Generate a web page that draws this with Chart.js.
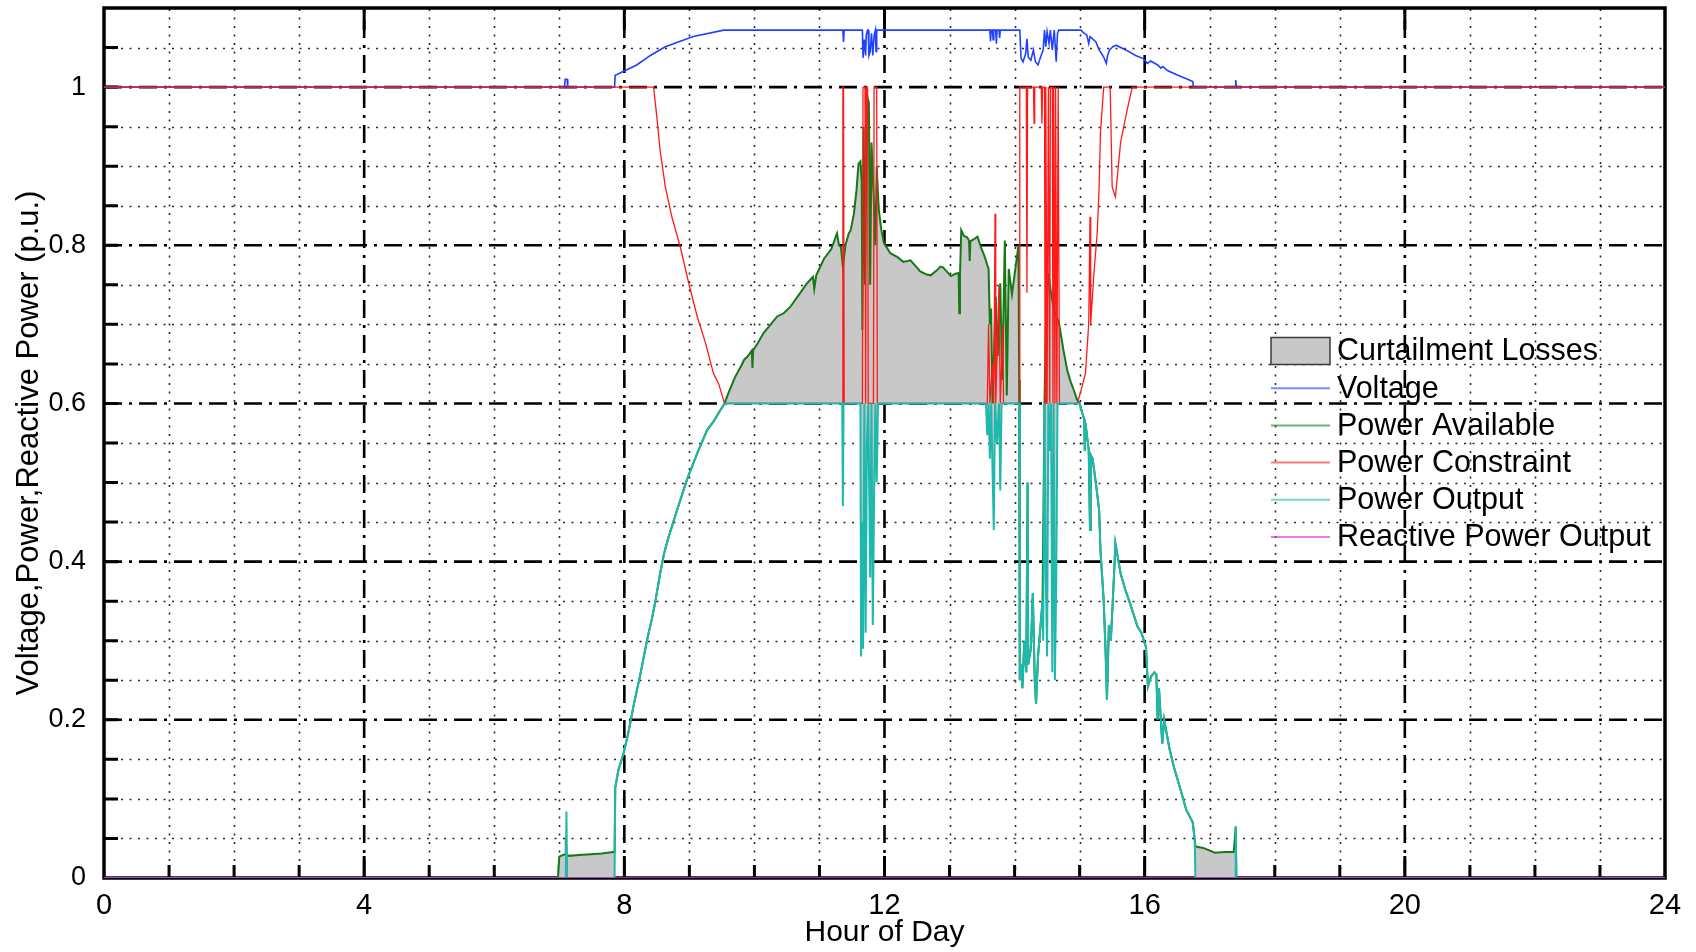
<!DOCTYPE html>
<html>
<head>
<meta charset="utf-8">
<script src="https://cdn.jsdelivr.net/npm/chart.js@4/dist/chart.umd.min.js"></script>
<style>
  html, body { margin: 0; padding: 0; background: #fff; }
  canvas { display: block; }
</style>
</head>
<body>
<canvas id="chart" width="1696" height="952"></canvas>
<script>
// values (hour of day -> p.u.)
const voltHours = [0, 7.08, 7.09, 7.12, 7.13, 7.85, 7.86, 8.19, 8.4, 8.63, 9.06, 9.53, 11.36, 11.37, 11.38,
  11.66, 11.67, 11.69, 11.71, 11.72, 11.74, 11.75, 11.76, 11.78, 11.8, 11.82, 11.84, 11.86, 11.87, 11.88,
  13.62, 13.63, 13.64, 13.66, 13.67, 13.68, 13.71, 13.72, 13.73, 13.76, 13.77, 13.78,
  14.08, 14.10, 14.13, 14.17, 14.19, 14.21, 14.25, 14.29, 14.32, 14.36, 14.40, 14.44, 14.46, 14.48, 14.50,
  14.53, 14.55, 14.58, 14.61, 14.64, 14.66, 14.68, 15.02, 15.07, 15.11, 15.14, 15.16, 15.25, 15.3, 15.37,
  15.41, 15.43, 15.46, 15.51, 15.56, 15.71, 15.86, 15.98, 16.04, 16.09, 16.2, 16.25, 16.28, 16.35, 16.51,
  16.66, 16.74, 16.75, 17.39, 17.4, 17.41, 24];
const voltValues = [1, 1, 1.01, 1.01, 1, 1, 1.015, 1.028, 1.04, 1.051, 1.064, 1.072, 1.072, 1.057, 1.072,
  1.072, 1.037, 1.06, 1.04, 1.066, 1.072, 1.072, 1.04, 1.045, 1.068, 1.04, 1.065, 1.072, 1.045, 1.072,
  1.072, 1.058, 1.072, 1.072, 1.06, 1.072, 1.072, 1.055, 1.072, 1.072, 1.062, 1.072,
  1.072, 1.036, 1.032, 1.042, 1.061, 1.038, 1.034, 1.047, 1.032, 1.028, 1.038, 1.047, 1.072, 1.051, 1.07,
  1.055, 1.072, 1.047, 1.072, 1.032, 1.068, 1.072, 1.072, 1.068, 1.066, 1.055, 1.064, 1.057, 1.047, 1.038,
  1.03, 1.04, 1.047, 1.051, 1.053, 1.047, 1.04, 1.036, 1.03, 1.033, 1.028, 1.024, 1.026, 1.021, 1.015,
  1.01, 1.007, 1, 1, 1.009, 1, 1];

const availHours = [0, 6.98, 7.0, 7.05, 7.09, 7.10, 7.11, 7.15, 7.3, 7.48, 7.65, 7.83, 7.85, 7.86, 7.91,
  7.99, 8.07, 8.14, 8.25, 8.35, 8.43, 8.48, 8.55, 8.61, 8.68, 8.81, 8.96, 9.12, 9.27, 9.37, 9.48, 9.54,
  9.6, 9.7, 9.8, 9.84, 9.9, 9.96, 9.97, 9.98, 10.05, 10.14, 10.25, 10.35, 10.45, 10.55, 10.68, 10.81,
  10.9, 10.92, 10.95, 11.07, 11.18, 11.27, 11.3, 11.33, 11.36, 11.4, 11.45, 11.48, 11.53, 11.57, 11.6,
  11.63, 11.65, 11.66, 11.68, 11.7, 11.73, 11.76, 11.78, 11.8, 11.83, 11.86, 11.88, 11.91, 11.95, 11.99,
  12.09, 12.2, 12.29, 12.4, 12.55, 12.65, 12.71, 12.8, 12.86, 12.9, 13.02, 13.09, 13.14, 13.15, 13.16,
  13.18, 13.22, 13.27, 13.3, 13.31, 13.32, 13.38, 13.43, 13.48, 13.53, 13.6, 13.62, 13.64, 13.66, 13.71,
  13.74, 13.78, 13.81, 13.85, 13.88, 13.91, 13.96, 14.04, 14.06, 14.07, 14.08, 14.10, 14.12, 14.15,
  14.18, 14.20, 14.21, 14.25, 14.28, 14.31, 14.33, 14.36, 14.40, 14.43, 14.46, 14.48, 14.52, 14.56,
  14.6, 14.64, 14.68, 14.75, 14.81, 14.86, 14.91, 14.96, 15.0, 15.04, 15.07, 15.08, 15.09, 15.14, 15.16,
  15.17, 15.2, 15.25, 15.3, 15.32, 15.37, 15.4, 15.42, 15.45, 15.48, 15.53, 15.55, 15.63, 15.7, 15.76,
  15.89, 15.95, 16.02, 16.05, 16.1, 16.15, 16.18, 16.19, 16.2, 16.22, 16.27, 16.3, 16.38, 16.45, 16.54,
  16.64, 16.74, 16.77, 16.78, 16.9, 17.08, 17.23, 17.37, 17.4, 17.41, 24];
const availValues = [0, 0, 0.027, 0.029, 0.03, 0.05, 0.03, 0.028, 0.029, 0.03, 0.031, 0.033, 0.033, 0.114, 0.137,
  0.158, 0.187, 0.217, 0.259, 0.301, 0.33, 0.351, 0.385, 0.41, 0.431, 0.465, 0.503, 0.537, 0.566, 0.577, 0.592, 0.6,
  0.613, 0.633, 0.648, 0.655, 0.66, 0.667, 0.645, 0.667, 0.676, 0.689, 0.7, 0.71, 0.714, 0.722, 0.737, 0.752,
  0.76, 0.745, 0.762, 0.783, 0.795, 0.815, 0.8, 0.798, 0.773, 0.8, 0.815, 0.819, 0.84, 0.87, 0.903,
  0.906, 0.88, 0.693, 0.95, 0.75, 0.99, 0.98, 0.75, 0.93, 0.87, 0.8, 0.9, 0.847, 0.82, 0.803,
  0.79, 0.785, 0.779, 0.781, 0.767, 0.763, 0.762, 0.768, 0.773, 0.772, 0.761, 0.764, 0.765, 0.714, 0.76,
  0.819, 0.812, 0.81, 0.806, 0.78, 0.805, 0.808, 0.811, 0.798, 0.788, 0.77, 0.7, 0.72, 0.6, 0.735,
  0.66, 0.752, 0.63, 0.806, 0.61, 0.77, 0.738, 0.788, 0.8, 0.63, 0.25, 0.27, 0.24, 0.3,
  0.26, 0.5, 0.27, 0.29, 0.36, 0.25, 0.22, 0.28, 0.32, 0.35, 0.6, 0.7, 0.765, 0.74,
  0.72, 0.71, 0.703, 0.668, 0.642, 0.628, 0.617, 0.605, 0.6, 0.588, 0.58, 0.54, 0.575, 0.541, 0.44,
  0.535, 0.53, 0.499, 0.465, 0.415, 0.351, 0.284, 0.225, 0.32, 0.3, 0.385, 0.423, 0.385, 0.365, 0.351,
  0.318, 0.31, 0.292, 0.242, 0.255, 0.26, 0.257, 0.228, 0.2, 0.24, 0.17, 0.2, 0.164, 0.14, 0.115,
  0.086, 0.07, 0.048, 0.04, 0.038, 0.032, 0.033, 0.033, 0.065, 0, 0];

const limitHours = [0, 8.45, 8.5, 8.55, 8.63, 8.73, 8.86, 8.99, 9.12, 9.25, 9.37, 9.45, 9.54, 11.35, 11.36,
  11.37, 11.38, 11.66, 11.67, 11.7, 11.71, 11.72, 11.74, 11.75, 11.83, 11.84, 11.88, 11.89, 13.58, 13.6,
  13.62, 13.66, 13.68, 13.7, 13.71, 13.76, 13.78, 13.82, 13.83, 14.07, 14.08, 14.18, 14.19, 14.2, 14.29,
  14.3, 14.31, 14.41, 14.42, 14.43, 14.46, 14.47, 14.48, 14.5, 14.52, 14.54, 14.55, 14.58, 14.59, 14.6,
  14.62, 14.63, 14.65, 14.67, 14.69, 14.96, 15.0, 15.09, 15.14, 15.16, 15.17, 15.22, 15.27, 15.3, 15.32,
  15.37, 15.47, 15.5, 15.55, 15.63, 15.73, 15.81, 24];
const limitValues = [1, 1, 0.962, 0.92, 0.874, 0.836, 0.798, 0.752, 0.71, 0.676, 0.638, 0.625, 0.6, 0.6, 1,
  1, 0.6, 0.6, 1, 1, 0.6, 1, 1, 0.6, 0.6, 1, 1, 0.6, 0.6, 0.7,
  0.6, 0.65, 0.6, 0.84, 0.6, 0.75, 0.6, 0.7, 0.6, 0.6, 1, 1, 0.74, 1, 1,
  0.954, 1, 1, 0.954, 1, 1, 0.6, 1, 0.6, 1, 0.6, 1, 1, 0.6, 1,
  0.6, 1, 0.6, 1, 0.6, 0.6, 0.61, 0.638, 0.701, 0.836, 0.7, 0.765, 0.815, 0.874, 0.942,
  1, 1, 0.874, 0.861, 0.93, 0.971, 1, 1];

const outHours = [0, 7.10, 7.11, 7.12, 7.85, 7.86, 7.91, 7.99, 8.07, 8.14, 8.25, 8.35, 8.43, 8.48, 8.55,
  8.61, 8.68, 8.81, 8.96, 9.12, 9.27, 9.37, 9.48, 9.55, 11.35, 11.36, 11.37, 11.63, 11.64, 11.66, 11.67,
  11.69, 11.71, 11.73, 11.75, 11.78, 11.8, 11.82, 11.84, 11.86, 11.88, 11.9, 13.56, 13.58, 13.6, 13.62,
  13.64, 13.68, 13.7, 13.73, 13.76, 13.78, 13.8, 14.07, 14.08, 14.10, 14.12, 14.15, 14.18, 14.20, 14.21,
  14.25, 14.28, 14.31, 14.33, 14.36, 14.40, 14.43, 14.44, 14.46, 14.48, 14.5, 14.52, 14.54, 14.56, 14.58,
  14.6, 14.62, 14.64, 14.66, 15.0, 15.04, 15.07, 15.08, 15.09, 15.14, 15.16, 15.17, 15.2, 15.25, 15.3,
  15.32, 15.37, 15.4, 15.42, 15.45, 15.48, 15.53, 15.55, 15.63, 15.7, 15.76, 15.89, 15.95, 16.02, 16.05,
  16.1, 16.15, 16.18, 16.19, 16.2, 16.22, 16.27, 16.3, 16.38, 16.45, 16.54, 16.64, 16.74, 16.77, 16.78,
  17.39, 17.4, 17.41, 24];
const outValues = [0, 0, 0.084, 0, 0, 0.114, 0.137, 0.158, 0.187, 0.217, 0.259, 0.301, 0.33, 0.351, 0.385,
  0.41, 0.431, 0.465, 0.503, 0.537, 0.566, 0.577, 0.592, 0.6, 0.6, 0.47, 0.6, 0.6, 0.28, 0.45, 0.29,
  0.6, 0.31, 0.55, 0.6, 0.38, 0.6, 0.32, 0.48, 0.6, 0.5, 0.6, 0.6, 0.56, 0.6, 0.53,
  0.6, 0.44, 0.6, 0.55, 0.6, 0.49, 0.6, 0.6, 0.25, 0.27, 0.24, 0.3, 0.26, 0.5, 0.27,
  0.29, 0.36, 0.25, 0.22, 0.28, 0.32, 0.35, 0.3, 0.6, 0.38, 0.28, 0.6, 0.54, 0.6, 0.26,
  0.6, 0.25, 0.37, 0.6, 0.6, 0.588, 0.58, 0.54, 0.575, 0.541, 0.44, 0.535, 0.53, 0.499, 0.465,
  0.415, 0.351, 0.284, 0.225, 0.32, 0.3, 0.385, 0.423, 0.385, 0.365, 0.351, 0.318, 0.31, 0.292, 0.242,
  0.255, 0.26, 0.257, 0.228, 0.2, 0.24, 0.17, 0.2, 0.164, 0.14, 0.115, 0.086, 0.07, 0.048, 0,
  0, 0.065, 0, 0];

const reactHours = [0, 24];
const reactValues = [0, 0];

const seriesLabels = ['Curtailment Losses', 'Voltage', 'Power Available', 'Power Constraint',
  'Power Output', 'Reactive Power Output'];
const xTickEvery = 4;

const FONT = '"Liberation Sans", Arial, Helvetica, sans-serif';

function pts(hours, values) {
  return hours.map((h, i) => ({ x: h, y: values[i] }));
}

// MATLAB style grid, box and inward ticks
const matlabAxes = {
  id: 'matlabAxes',
  beforeDatasetsDraw(chart) {
    const { ctx, chartArea: a, scales: { x, y } } = chart;
    const isMajorX = v => Math.round(v) % xTickEvery === 0;
    const isMajorY = v => Math.round(v * 20) % 4 === 0;
    ctx.save();
    // dotted minor grid
    ctx.strokeStyle = '#2a2a2a';
    ctx.lineWidth = 1.6;
    ctx.setLineDash([2, 6.5]);
    ctx.beginPath();
    x.ticks.forEach(t => {
      const px = Math.round(x.getPixelForValue(t.value)) + 0.5;
      if (isMajorX(t.value) || px <= a.left + 2 || px >= a.right - 2) return;
      ctx.moveTo(px, a.bottom); ctx.lineTo(px, a.top);
    });
    y.ticks.forEach(t => {
      const py = Math.round(y.getPixelForValue(t.value)) + 0.5;
      if (isMajorY(t.value) || py <= a.top + 2 || py >= a.bottom - 2) return;
      ctx.moveTo(a.left, py); ctx.lineTo(a.right, py);
    });
    ctx.stroke();
    // dash-dot major grid
    ctx.strokeStyle = '#000';
    ctx.lineWidth = 2.6;
    ctx.setLineDash([18, 7, 3, 7]);
    ctx.beginPath();
    x.ticks.forEach(t => {
      const px = x.getPixelForValue(t.value);
      if (!isMajorX(t.value) || px <= a.left + 2 || px >= a.right - 2) return;
      ctx.moveTo(px, a.bottom); ctx.lineTo(px, a.top);
    });
    y.ticks.forEach(t => {
      const py = y.getPixelForValue(t.value);
      if (!isMajorY(t.value) || py <= a.top + 2 || py >= a.bottom - 2) return;
      ctx.moveTo(a.left, py); ctx.lineTo(a.right, py);
    });
    ctx.stroke();
    // inward ticks
    ctx.setLineDash([]);
    ctx.lineWidth = 3;
    ctx.beginPath();
    x.ticks.forEach(t => {
      const px = x.getPixelForValue(t.value);
      if (px <= a.left + 2 || px >= a.right - 2) return;
      const len = isMajorX(t.value) ? 22 : 13;
      ctx.moveTo(px, a.bottom); ctx.lineTo(px, a.bottom - len);
      if (isMajorX(t.value)) { ctx.moveTo(px, a.top); ctx.lineTo(px, a.top + 22); }
    });
    y.ticks.forEach(t => {
      const py = y.getPixelForValue(t.value);
      if (py <= a.top + 2 || py >= a.bottom - 2) return;
      ctx.moveTo(a.left, py); ctx.lineTo(a.left + 14, py);
    });
    ctx.stroke();
    // box
    ctx.lineWidth = 3.5;
    ctx.strokeRect(a.left, a.top, a.right - a.left, a.bottom - a.top);
    ctx.restore();
  },
  afterDatasetsDraw(chart) {
    const ctx = chart.ctx;
    const sx = 1271, sw = 59, tx = 1337, y0 = 351, dy = 37.2;
    ctx.save();
    chart.data.datasets.forEach((ds, i) => {
      const cy = y0 + i * dy;
      if (ds.fill) {
        ctx.fillStyle = ds.backgroundColor;
        ctx.fillRect(sx, cy - 13.5, sw, 27);
        ctx.strokeStyle = '#3a3a3a';
        ctx.lineWidth = 1.5;
        ctx.strokeRect(sx, cy - 13.5, sw, 27);
      } else {
        ctx.globalAlpha = 0.6;
        ctx.strokeStyle = ds.borderColor;
        ctx.lineWidth = 2;
        ctx.beginPath();
        ctx.moveTo(sx, cy); ctx.lineTo(sx + sw, cy);
        ctx.stroke();
        ctx.globalAlpha = 1;
      }
      ctx.fillStyle = '#000';
      ctx.font = '30.5px ' + FONT;
      ctx.textBaseline = 'middle';
      ctx.textAlign = 'left';
      ctx.fillText(ds.label, tx, cy + 1);
    });
    ctx.restore();
  }
};

const lineDefaults = { pointRadius: 0, tension: 0, fill: false };

new Chart(document.getElementById('chart'), {
  type: 'line',
  data: {
    datasets: [
      { ...lineDefaults, label: seriesLabels[0], data: pts(availHours, availValues),
        borderWidth: 0, borderColor: 'rgba(0,0,0,0)', backgroundColor: '#c8c8c8',
        fill: { target: 4, above: '#c8c8c8', below: 'rgba(0,0,0,0)' }, order: 6 },
      { ...lineDefaults, label: seriesLabels[1], data: pts(voltHours, voltValues),
        borderColor: '#2040ff', borderWidth: 1.6, order: 5 },
      { ...lineDefaults, label: seriesLabels[2], data: pts(availHours, availValues),
        borderColor: '#167816', borderWidth: 2, order: 4 },
      { ...lineDefaults, label: seriesLabels[3], data: pts(limitHours, limitValues),
        borderColor: '#ff1a1a', borderWidth: 1.3, order: 3 },
      { ...lineDefaults, label: seriesLabels[4], data: pts(outHours, outValues),
        borderColor: '#1fb8ad', borderWidth: 2, order: 2 },
      { ...lineDefaults, label: seriesLabels[5], data: pts(reactHours, reactValues),
        borderColor: '#e020e0', borderWidth: 1.5, order: 1 }
    ]
  },
  options: {
    responsive: false,
    animation: false,
    devicePixelRatio: 1,
    layout: { padding: { top: 8, right: 31, left: 0, bottom: 0 } },
    plugins: { legend: { display: false }, tooltip: { enabled: false } },
    scales: {
      x: {
        type: 'linear', min: 0, max: 24,
        afterFit: s => { s.height = 74; s.paddingLeft = 0; s.paddingRight = 0; },
        grid: { display: false },
        border: { display: false },
        ticks: {
          stepSize: 1, autoSkip: false, maxRotation: 0, padding: 3, color: '#000',
          font: { family: FONT, size: 29 },
          callback: v => (Math.round(v) % xTickEvery === 0 ? String(v) : '')
        },
        title: { display: true, text: 'Hour of Day', color: '#000',
          font: { family: FONT, size: 30 }, padding: { top: 0, bottom: 1 } }
      },
      y: {
        type: 'linear', min: 0, max: 1.1,
        afterFit: s => { s.width = 104; s.paddingTop = 0; s.paddingBottom = 0; },
        grid: { display: false },
        border: { display: false },
        ticks: {
          stepSize: 0.05, maxTicksLimit: 100, autoSkip: false, padding: 10, color: '#000',
          font: { family: FONT, size: 27 },
          callback: v => { const r = Math.round(v * 20); return r % 4 === 0 ? String(r / 20) : ''; }
        },
        title: { display: true, text: 'Voltage,Power,Reactive Power (p.u.)', color: '#000',
          font: { family: FONT, size: 31 }, padding: { top: 11, bottom: 0 } }
      }
    }
  },
  plugins: [matlabAxes]
});
</script>
</body>
</html>
